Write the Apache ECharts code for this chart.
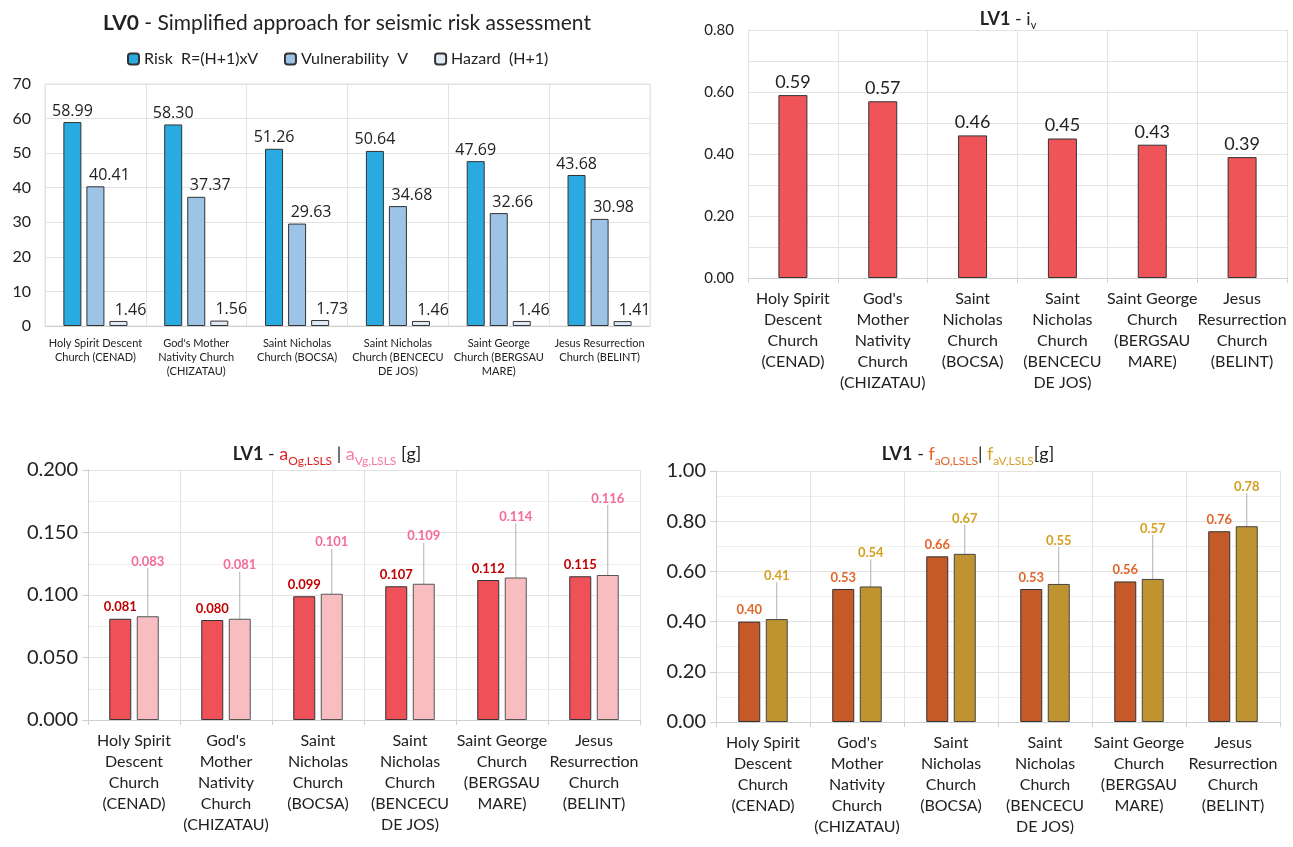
<!DOCTYPE html>
<html>
<head>
<meta charset="utf-8">
<script src="https://cdn.jsdelivr.net/npm/echarts@6/dist/echarts.min.js"></script>
<style>
html, body { margin: 0; padding: 0; background: #fff; }
#main { width: 1293px; height: 847px; }
</style>
</head>
<body>
<div id="main"></div>
<script>
// categories (two wrappings of the same church names)
var churchesWide = ['Holy Spirit Descent\nChurch (CENAD)', 'God\'s Mother\nNativity Church\n(CHIZATAU)', 'Saint Nicholas\nChurch (BOCSA)', 'Saint Nicholas\nChurch (BENCECU\nDE JOS)', 'Saint George\nChurch (BERGSAU\nMARE)', 'Jesus Resurrection\nChurch (BELINT)'];
var churchesNarrow = ['Holy Spirit\nDescent\nChurch\n(CENAD)', 'God\'s\nMother\nNativity\nChurch\n(CHIZATAU)', 'Saint\nNicholas\nChurch\n(BOCSA)', 'Saint\nNicholas\nChurch\n(BENCECU\nDE JOS)', 'Saint George\nChurch\n(BERGSAU\nMARE)', 'Jesus\nResurrection\nChurch\n(BELINT)'];

// LV0
var risk = [58.99, 58.30, 51.26, 50.64, 47.69, 43.68];
var vulnerability = [40.41, 37.37, 29.63, 34.68, 32.66, 30.98];
var hazard = [1.46, 1.56, 1.73, 1.46, 1.46, 1.41];
// LV1 - iv
var iv = [0.59, 0.57, 0.46, 0.45, 0.43, 0.39];
// LV1 - aOg / aVg [g]
var aOg = [0.081, 0.080, 0.099, 0.107, 0.112, 0.115];
var aVg = [0.083, 0.081, 0.101, 0.109, 0.114, 0.116];
// LV1 - faO / faV
var faO = [0.40, 0.53, 0.66, 0.53, 0.56, 0.76];
var faV = [0.41, 0.54, 0.67, 0.55, 0.57, 0.78];

// label lift (px) for the callout labels, as in the source figure
var pinkLift = [43, 42, 40, 36, 49, 65];
var goldLift = [32, 22, 24, 32, 39, 28];

var FONT = 'Lato, "Open Sans", sans-serif';
var gridLine = { show: true, lineStyle: { color: '#e3e3e3', width: 1 } };

function fmt(n) {
	return function (p) { return (typeof p === 'number' ? p : p.value).toFixed(n); };
}

function catAxis(idx, cats, fs, lh) {
	return {
		type: 'category', gridIndex: idx, data: cats,
		axisLine: { lineStyle: { color: '#d0d0d0' } },
		axisTick: { show: idx !== 0, length: 5, lineStyle: { color: '#d0d0d0' } },
		splitLine: gridLine,
		axisLabel: { interval: 0, color: '#222', fontSize: fs, lineHeight: lh, fontFamily: FONT, margin: 10 }
	};
}

var mychart = echarts.init(document.getElementById('main'));

var option = {
	animation: false,
	textStyle: { fontFamily: FONT },
	title: [
		{
			text: '{b|LV0} - Simplified approach for seismic risk assessment',
			left: 342, top: 8, textAlign: 'center',
			textStyle: { fontSize: 21, fontWeight: 'normal', color: '#222', fontFamily: FONT,
				rich: { b: { fontSize: 21, fontWeight: 'bold', color: '#222', fontFamily: FONT } } }
		},
		{
			text: '{b|LV1} - i{s|v}',
			left: 1003, top: 2, textAlign: 'center',
			textStyle: { fontSize: 18, fontWeight: 'normal', color: '#222', fontFamily: FONT, lineHeight: 24,
				rich: {
					b: { fontSize: 18, fontWeight: 'bold', color: '#222', fontFamily: FONT, lineHeight: 24 },
					s: { fontSize: 11, color: '#222', verticalAlign: 'bottom', lineHeight: 24, fontFamily: FONT }
				} }
		},
		{
			text: '{b|LV1} - {r|a}{rs|Og,LSLS} | {p|a}{ps|Vg,LSLS} [g]',
			left: 322, top: 436, textAlign: 'center',
			textStyle: { fontSize: 18, fontWeight: 'normal', color: '#222', fontFamily: FONT, lineHeight: 26,
				rich: {
					b: { fontSize: 18, fontWeight: 'bold', color: '#222', fontFamily: FONT, lineHeight: 26 },
					r: { fontSize: 18, color: '#e0201e', fontFamily: FONT, lineHeight: 26 },
					rs: { fontSize: 12, color: '#e0201e', verticalAlign: 'bottom', lineHeight: 26, fontFamily: FONT },
					p: { fontSize: 18, color: '#f57aa8', fontFamily: FONT, lineHeight: 26 },
					ps: { fontSize: 12, color: '#f57aa8', verticalAlign: 'bottom', lineHeight: 26, fontFamily: FONT }
				} }
		},
		{
			text: '{b|LV1} - {r|f}{rs|aO,LSLS}| {p|f}{ps|aV,LSLS}[g]',
			left: 963, top: 436, textAlign: 'center',
			textStyle: { fontSize: 18, fontWeight: 'normal', color: '#222', fontFamily: FONT, lineHeight: 26,
				rich: {
					b: { fontSize: 18, fontWeight: 'bold', color: '#222', fontFamily: FONT, lineHeight: 26 },
					r: { fontSize: 18, color: '#e0662a', fontFamily: FONT, lineHeight: 26 },
					rs: { fontSize: 12, color: '#e0662a', verticalAlign: 'bottom', lineHeight: 26, fontFamily: FONT },
					p: { fontSize: 18, color: '#d4a020', fontFamily: FONT, lineHeight: 26 },
					ps: { fontSize: 12, color: '#d4a020', verticalAlign: 'bottom', lineHeight: 26, fontFamily: FONT }
				} }
		}
	],
	legend: {
		top: 46, left: 122,
		itemWidth: 11, itemHeight: 11, itemGap: 26,
		textStyle: { fontSize: 16, color: '#222', fontFamily: FONT },
		data: ['Risk  R=(H+1)xV', 'Vulnerability  V', 'Hazard  (H+1)']
	},
	grid: [
		{ left: 45, top: 84, width: 605, height: 242, show: true, borderColor: '#e3e3e3' },
		{ left: 748, top: 30, width: 539, height: 248 },
		{ left: 88, top: 470, width: 552, height: 250 },
		{ left: 716, top: 471, width: 564, height: 251 }
	],
	xAxis: [
		catAxis(0, churchesWide, 11, 14),
		catAxis(1, churchesNarrow, 16, 21),
		catAxis(2, churchesNarrow, 16, 21),
		catAxis(3, churchesNarrow, 16, 21)
	],
	yAxis: [
		{ type: 'value', gridIndex: 0, min: 0, max: 70, interval: 10,
			axisLine: { show: false }, axisTick: { show: false }, splitLine: gridLine,
			axisLabel: { color: '#222', fontSize: 16, fontFamily: FONT, margin: 14 } },
		{ type: 'value', gridIndex: 1, min: 0, max: 0.8, interval: 0.2,
			axisLine: { show: false }, axisTick: { show: false }, splitLine: gridLine,
			minorTick: { splitNumber: 2 }, minorSplitLine: gridLine,
			axisLabel: { color: '#222', fontSize: 15, fontFamily: FONT, margin: 14, formatter: fmt(2) } },
		{ type: 'value', gridIndex: 2, min: 0, max: 0.2, interval: 0.05,
			axisLine: { show: true, lineStyle: { color: '#d0d0d0' } },
			axisTick: { show: true, length: 6, lineStyle: { color: '#d0d0d0' } },
			splitLine: gridLine, minorTick: { splitNumber: 2 },
			minorSplitLine: { show: true, lineStyle: { color: '#efefef' } },
			axisLabel: { color: '#222', fontSize: 20, fontFamily: FONT, margin: 10, formatter: fmt(3) } },
		{ type: 'value', gridIndex: 3, min: 0, max: 1, interval: 0.2,
			axisLine: { show: true, lineStyle: { color: '#d0d0d0' } },
			axisTick: { show: true, length: 6, lineStyle: { color: '#d0d0d0' } },
			splitLine: gridLine, minorTick: { splitNumber: 2 },
			minorSplitLine: { show: true, lineStyle: { color: '#efefef' } },
			axisLabel: { color: '#222', fontSize: 20, fontFamily: FONT, margin: 10, formatter: fmt(2) } }
	],
	series: [
		// LV0
		{ name: 'Risk  R=(H+1)xV', type: 'bar', xAxisIndex: 0, yAxisIndex: 0, data: risk,
			barWidth: 18, barGap: '28%',
			itemStyle: { color: '#29abe2', borderColor: '#333', borderWidth: 1 },
			label: { show: true, position: 'top', distance: 3, color: '#222', fontSize: 16, fontFamily: '"Open Sans", sans-serif', formatter: fmt(2) } },
		{ name: 'Vulnerability  V', type: 'bar', xAxisIndex: 0, yAxisIndex: 0, data: vulnerability,
			barWidth: 18, barGap: '28%',
			itemStyle: { color: '#9dc3e6', borderColor: '#333', borderWidth: 1 },
			label: { show: true, position: 'top', distance: 3, offset: [14, 0], color: '#222', fontSize: 16, fontFamily: '"Open Sans", sans-serif', formatter: fmt(2) } },
		{ name: 'Hazard  (H+1)', type: 'bar', xAxisIndex: 0, yAxisIndex: 0, data: hazard,
			barWidth: 18, barGap: '28%',
			itemStyle: { color: '#deebf7', borderColor: '#333', borderWidth: 1 },
			label: { show: true, position: 'top', distance: 3, offset: [12, 0], color: '#222', fontSize: 16, fontFamily: '"Open Sans", sans-serif', formatter: fmt(2) } },
		// LV1 - iv
		{ name: 'iv', type: 'bar', xAxisIndex: 1, yAxisIndex: 1, data: iv, barWidth: 29,
			itemStyle: { color: '#ef5459', borderColor: '#333', borderWidth: 1 },
			label: { show: true, position: 'top', distance: 4, color: '#222', fontSize: 18, formatter: fmt(2) } },
		// LV1 - aOg / aVg
		{ name: 'aOg', type: 'bar', xAxisIndex: 2, yAxisIndex: 2, data: aOg, barWidth: 22, barGap: '25%',
			itemStyle: { color: '#ee5157', borderColor: '#333', borderWidth: 1 },
			label: { show: true, position: 'top', distance: 5, color: '#c00000', fontWeight: 'bold', fontSize: 13, formatter: fmt(3) } },
		{ name: 'aVg', type: 'bar', xAxisIndex: 2, yAxisIndex: 2, data: aVg, barWidth: 22, barGap: '25%',
			itemStyle: { color: '#f8bdc0', borderColor: '#555', borderWidth: 1 },
			label: { show: true, position: 'top', distance: 5, color: '#f56a9c', fontWeight: 'bold', fontSize: 13, formatter: fmt(3) },
			labelLine: { show: true, lineStyle: { color: '#b0b0b0', width: 1 } },
			labelLayout: function (p) { return { dy: -pinkLift[p.dataIndex] }; } },
		// LV1 - faO / faV
		{ name: 'faO', type: 'bar', xAxisIndex: 3, yAxisIndex: 3, data: faO, barWidth: 22, barGap: '25%',
			itemStyle: { color: '#c55a28', borderColor: '#333', borderWidth: 1 },
			label: { show: true, position: 'top', distance: 5, color: '#e0662a', fontWeight: 'bold', fontSize: 13, formatter: fmt(2) } },
		{ name: 'faV', type: 'bar', xAxisIndex: 3, yAxisIndex: 3, data: faV, barWidth: 22, barGap: '25%',
			itemStyle: { color: '#bf9430', borderColor: '#444', borderWidth: 1 },
			label: { show: true, position: 'top', distance: 5, color: '#d4a020', fontWeight: 'bold', fontSize: 13, formatter: fmt(2) },
			labelLine: { show: true, lineStyle: { color: '#b0b0b0', width: 1 } },
			labelLayout: function (p) { return { dy: -goldLift[p.dataIndex] }; } }
	]
};

mychart.setOption(option);
</script>
</body>
</html>
